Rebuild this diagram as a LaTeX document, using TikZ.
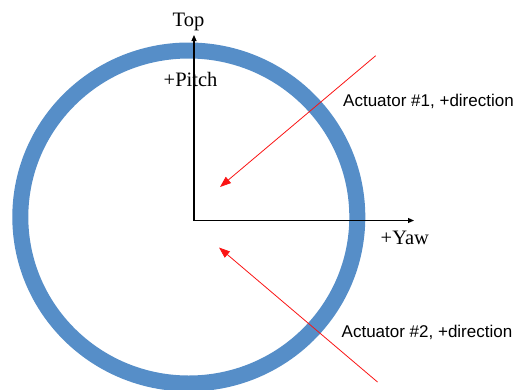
\documentclass[tikz,border=0pt]{standalone}
\definecolor{ringblue}{RGB}{86, 142, 200}
\definecolor{actred}{RGB}{250, 20, 20}
\usepackage{fontspec}
\setmainfont{Liberation Serif}
\newfontfamily\labelsans{Liberation Sans}
\usepackage{tikz}
\usetikzlibrary{arrows.meta, positioning}

\begin{document}
\begin{tikzpicture}[x=1pt, y=-1pt,
    axis/.style={draw=black, line width=1.1pt, -{Triangle[length=6pt, width=5pt]}},
    actarrow/.style={draw=actred, line width=0.8pt, -{Triangle[length=11pt, width=8pt]}},
    axislabel/.style={font=\fontsize{20.5}{24}\selectfont, inner sep=0pt},
    actlabel/.style={font=\labelsans\fontsize{17}{20}\selectfont, inner sep=0pt, anchor=base west}]
  \useasboundingbox (0,0) rectangle (522,389);
  % ring
  \draw[ringblue, line width=16pt] (188.8,217) ellipse [x radius=168.5, y radius=166.5];
  % axes
  \coordinate (origin) at (194,220.5);
  \coordinate (toptip) at (194,35);
  \coordinate (yawtip) at (414,220.5);
  \draw[axis] (origin) -- (toptip);
  \draw[axis] (origin) -- (yawtip);
  \node[axislabel, anchor=base] (top) at (188.5,26) {Top};
  \node[axislabel, anchor=base west] (pitch) at (163.5,86) {+Pitch};
  \node[axislabel, anchor=base west] (yaw) at (380.5,244) {+Yaw};
  % actuators
  \coordinate (act1start) at (375.7,55.7);
  \coordinate (act1tip) at (220,187);
  \coordinate (act2start) at (377.5,382);
  \coordinate (act2tip) at (219,247.5);
  \draw[actarrow] (act1start) -- (act1tip);
  \draw[actarrow] (act2start) -- (act2tip);
  \node[actlabel] (act1) at (343,106) {Actuator \#1, +direction};
  \node[actlabel] (act2) at (341.5,337) {Actuator \#2, +direction};
\end{tikzpicture}
\end{document}
